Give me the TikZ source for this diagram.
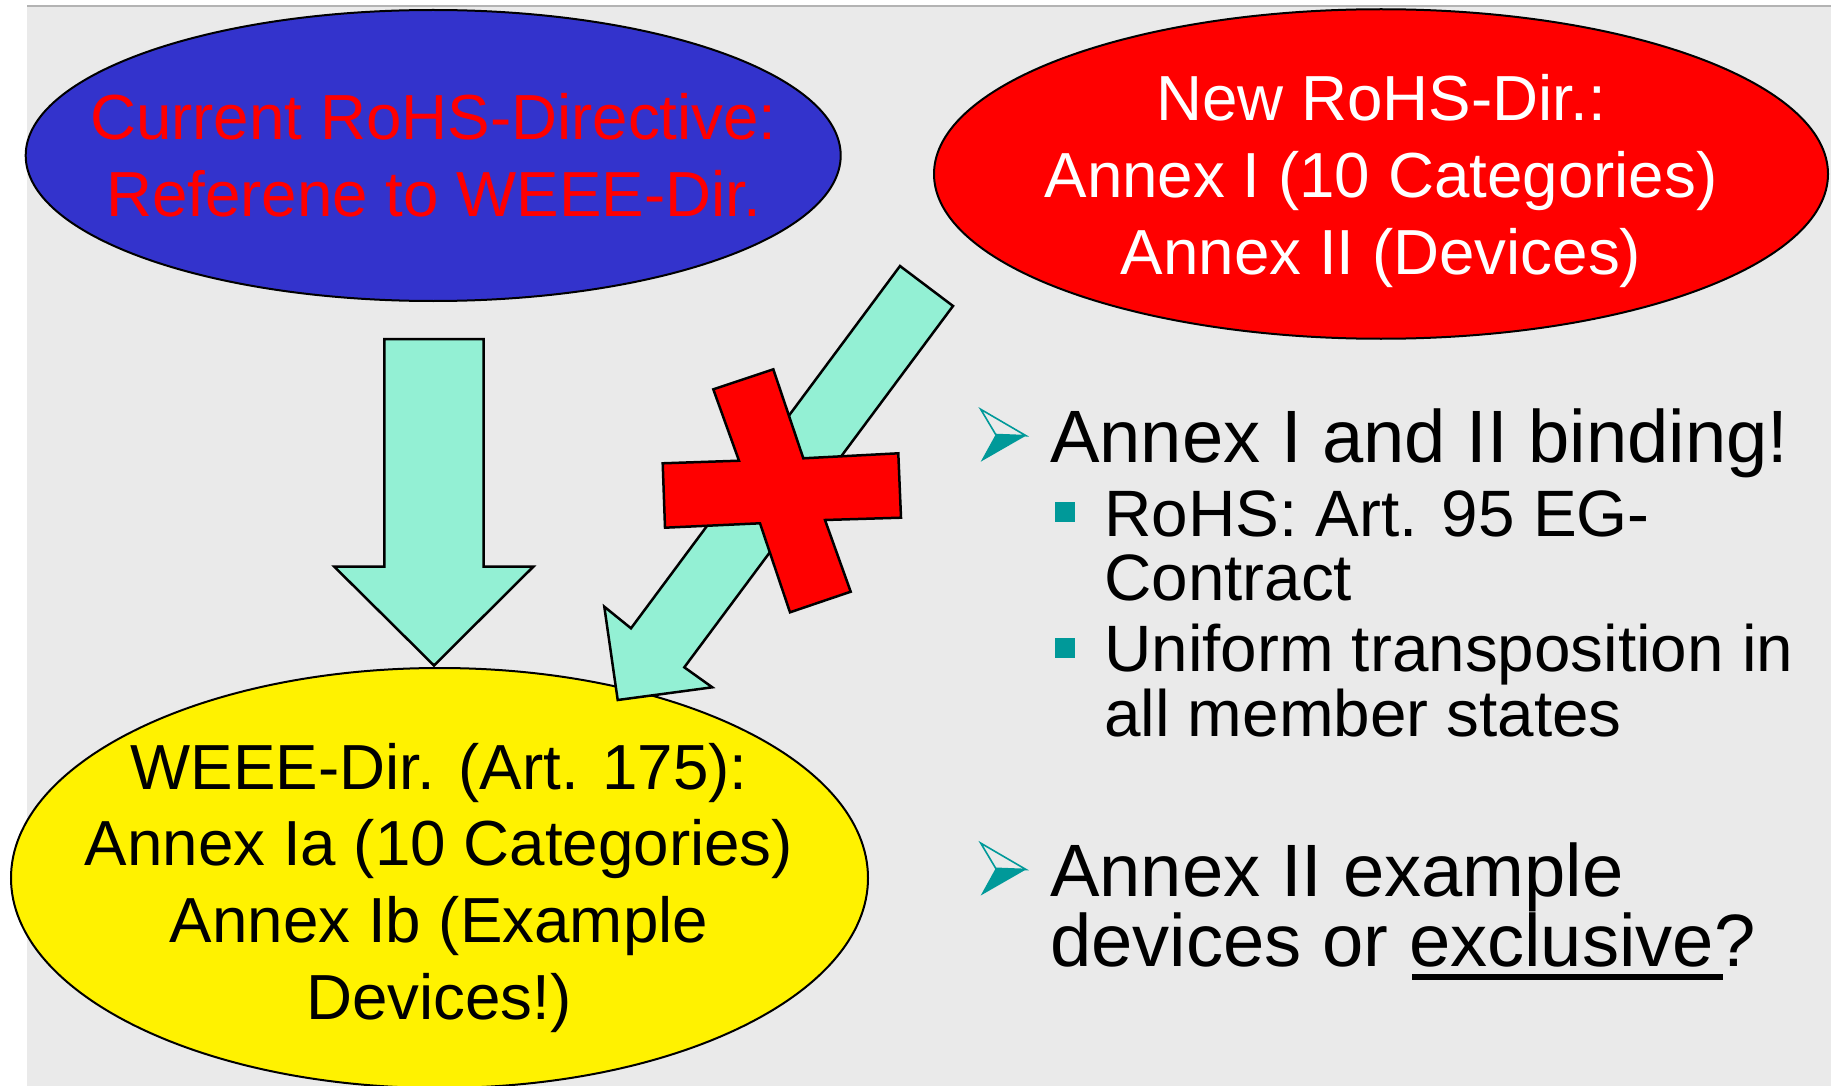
\documentclass[tikz,border=0pt]{standalone}
\usepackage{fontspec}
\setmainfont{Liberation Sans}
\usetikzlibrary{shapes.geometric}
\definecolor{bgc}{RGB}{234,234,234}
\definecolor{linec}{RGB}{179,179,179}
\definecolor{blueell}{RGB}{51,51,204}
\definecolor{arrowc}{RGB}{147,240,212}
\definecolor{tealc}{RGB}{0,153,153}
\newcommand\ulbox[1]{{\setbox0\hbox{#1}\rlap{\hspace{3pt}\rule[-13.5pt]{\dimexpr\wd0+6pt\relax}{6.5pt}}\box0}}
\begin{document}
\begin{tikzpicture}[x=1pt,y=-1pt,
  ell/.style={ellipse, draw=black, line width=2pt, inner sep=0pt, outer sep=0pt},
  etext/.style={font=\fontsize{63.7}{76}\selectfont, anchor=base, inner sep=0pt},
  blockarrow/.style={fill=arrowc, draw=black, line width=2.5pt, line join=miter},
  bigtext/.style={font=\fontsize{74.2}{80}\selectfont, anchor=base west, inner sep=0pt},
  smalltext/.style={font=\fontsize{65.6}{70}\selectfont, anchor=base west, inner sep=0pt},
  sqbullet/.style={fill=tealc},
  abul/.pic={
    \draw[tealc, line width=1.6pt, line join=miter] (0,-26.2) -- (45.3,0.2) -- (15,-1) -- cycle;
    \fill[tealc] (15,-1) -- (45.3,0.2) -- (0,26.2) -- cycle;
  }]
\useasboundingbox (0,0) rectangle (1831,1086);
% background
\fill[white] (0,0) rectangle (1831,1086);
\fill[bgc] (27,6) rectangle (1831,1086);
\draw[linec, line width=2.5pt] (27,6) -- (1831,6);

% ellipses
\node[ell, fill=blueell, minimum width=815pt, minimum height=291pt] (cur) at (433.2,155.5) {};
\node[ell, fill=red, minimum width=894pt, minimum height=329.5pt] (new) at (1381,174) {};
\node[ell, fill=yellow, minimum width=857pt, minimum height=420pt] (weee) at (439.5,878) {};

% block arrows
\draw[blockarrow] (384.3,339) -- (483.7,339) -- (483.7,566.7) -- (533.3,566.7) -- (434,665.5)
  -- (334.3,566.7) -- (384.3,566.7) -- cycle;
\draw[blockarrow] (900,266) -- (953,306) -- (684.3,667.3) -- (712.3,687.3) -- (617.7,700)
  -- (604.3,606.7) -- (631,628.3) -- cycle;

% red cross
\draw[fill=red, draw=black, line width=2.5pt, line join=miter]
  (713.3,389.3) -- (773.3,369.3) -- (803.3,458.3) -- (898.3,453.3) -- (901,517.7)
  -- (825,520) -- (850.7,591.7) -- (790,612.3) -- (760,523.3) -- (665,527.7)
  -- (662.7,463.3) -- (739,460.7) -- cycle;

% ellipse texts
\node[etext, text=red] (cur1) at (433.5,140) {Current RoHS-Directive:};
\node[etext, text=red] (cur2) at (433.5,216.7) {Referene to WEEE-Dir.};

\node[etext, text=white] (new1) at (1381,120.5) {New RoHS-Dir.:};
\node[etext, text=white] (new2) at (1381,197.5) {Annex I (10 Categories)};
\node[etext, text=white] (new3) at (1381,274.5) {Annex II (Devices)};

\node[etext] (weee1) at (439,789) {WEEE-Dir. (Art. 175):};
\node[etext] (weee2) at (439,865.7) {Annex Ia (10 Categories)};
\node[etext] (weee3) at (439,942.4) {Annex Ib (Example};
\node[etext] (weee4) at (439,1019) {Devices!)};

% right-hand bullets
\pic at (980.7,435.5) {abul};
\node[bigtext] (b1) at (1050,462.5) {Annex I and II binding!};
\fill[sqbullet] (1055,501.7) rectangle (1075,521.7);
\node[smalltext] (s1a) at (1104,536.7) {RoHS: Art. 95 EG-};
\node[smalltext] (s1b) at (1104,600) {Contract};
\fill[sqbullet] (1055,637.7) rectangle (1075,657.7);
\node[smalltext] (s2a) at (1104,671.7) {Uniform transposition in};
\node[smalltext] (s2b) at (1104,736.7) {all member states};

\pic at (980.7,869.3) {abul};
\node[bigtext] (b2a) at (1050,896) {Annex II example};
\node[bigtext] (b2b) at (1050,966.7) {devices or \ulbox{exclusive}?};
\end{tikzpicture}
\end{document}
